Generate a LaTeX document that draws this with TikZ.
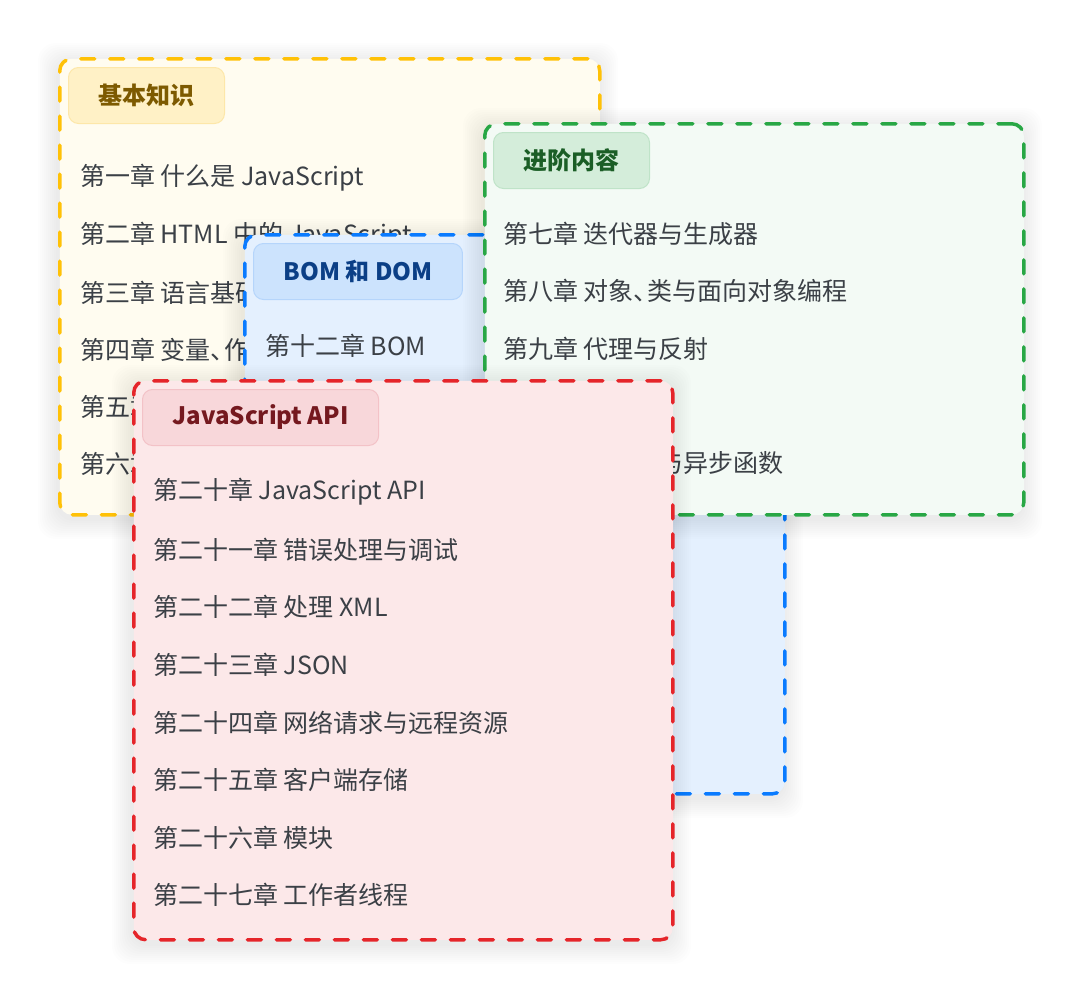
\documentclass[tikz,border=0pt]{standalone}
\usepackage{fontspec}
\setmainfont{Noto Sans CJK SC}
\usetikzlibrary{positioning,calc}

\definecolor{ylwline}{HTML}{FFC107}
\definecolor{ylwfill}{HTML}{FFFCF0}
\definecolor{ylwtag}{HTML}{FFF1C6}
\definecolor{ylwedge}{HTML}{FDE7A9}
\definecolor{ylwtext}{HTML}{7D5A00}
\definecolor{grnline}{HTML}{28A745}
\definecolor{grnfill}{HTML}{F3FAF5}
\definecolor{grntag}{HTML}{D4EDDA}
\definecolor{grnedge}{HTML}{BFE3C8}
\definecolor{grntext}{HTML}{1B5E26}
\definecolor{bluline}{HTML}{0A7BFF}
\definecolor{blufill}{HTML}{E4F0FE}
\definecolor{blutag}{HTML}{CCE3FD}
\definecolor{bluedge}{HTML}{B5D5FB}
\definecolor{blutext}{HTML}{0B3F86}
\definecolor{redline}{HTML}{E5252A}
\definecolor{redfill}{HTML}{FCE8E9}
\definecolor{redtag}{HTML}{F8D7DA}
\definecolor{rededge}{HTML}{F3C2C7}
\definecolor{redtext}{HTML}{75191F}
\definecolor{itemtext}{HTML}{3B4046}

% half-width enumeration comma
\newcommand\dun{、\kern-.45em}
% soft shadow under a panel: x, y, width, height
\newcommand\softshadow[4]{%
  \foreach \k in {2,4,...,20}
    \fill[black,opacity=0.008,rounded corners=18pt]
      (#1-\k,#2-\k+6) rectangle (#1+#3+\k,#2+#4+\k+6);}

\begin{document}
\begin{tikzpicture}[x=1pt,y=-1pt,
  panel/.style={draw=#1line,fill=#1fill,line width=3.5pt,line cap=round,
    dash pattern=on 14pt off 15pt,rounded corners=12pt,
    minimum width=540pt,inner sep=0pt,anchor=north west},
  tag/.style={draw=#1edge,fill=#1tag,line width=1pt,rounded corners=10pt,
    text=#1text,font=\fontsize{24}{28}\selectfont\bfseries,
    minimum height=56pt,inner xsep=30pt,
    below right=10pt and 10pt},
  item/.style={anchor=west,text=itemtext,font=\fontsize{25}{30}\selectfont,inner sep=0pt}]
\fill[white] (0,0) rectangle (1080,996);
\useasboundingbox (0,0) rectangle (1080,996);

% 基本知识
\softshadow{58}{57}{540}{456}
\node[panel=ylw,minimum height=456pt] (basics) at (58,57) {};
\node[tag=ylw] (basics-tag) at (basics.north west) {基本知识};
\foreach \i/\txt in {0/第一章 什么是 JavaScript,1/第二章 HTML 中的 JavaScript,
    2/第三章 语言基础,3/第四章 变量\dun 作用域与内存,4/第五章 基本引用类型,5/第六章 集合引用类型}
  \node[item] (basics-\i) at ($(basics.north west)+(22,121+57.2*\i)$) {\txt};

% BOM 和 DOM
\softshadow{243}{233}{540}{559}
\node[panel=blu,minimum height=559pt] (bomdom) at (243,233) {};
\node[tag=blu] (bomdom-tag) at (bomdom.north west) {BOM 和 DOM};
\node[item] (bomdom-0) at ($(bomdom.north west)+(22,113)$) {第十二章 BOM};

% 进阶内容
\softshadow{483}{122}{539}{391}
\node[panel=grn,minimum width=539pt,minimum height=391pt] (advanced) at (483,122) {};
\node[tag=grn] (advanced-tag) at (advanced.north west) {进阶内容};
\foreach \i/\txt in {0/第七章 迭代器与生成器,1/第八章 对象\dun 类与面向对象编程,
    2/第九章 代理与反射,4/第十一章 期约与异步函数}
  \node[item] (advanced-\i) at ($(advanced.north west)+(20,112+57.3*\i)$) {\txt};

% JavaScript API
\softshadow{132}{379}{539}{559}
\node[panel=red,minimum width=539pt,minimum height=559pt] (jsapi) at (132,379) {};
\node[tag=red] (jsapi-tag) at (jsapi.north west) {JavaScript API};
\foreach \i/\txt in {0/第二十章 JavaScript API,1/第二十一章 错误处理与调试,2/第二十二章 处理 XML,
    3/第二十三章 JSON,4/第二十四章 网络请求与远程资源,5/第二十五章 客户端存储,
    6/第二十六章 模块,7/第二十七章 工作者线程}
  \node[item] (jsapi-\i) at ($(jsapi.north west)+(21,113+57.6*\i)$) {\txt};
\end{tikzpicture}
\end{document}
